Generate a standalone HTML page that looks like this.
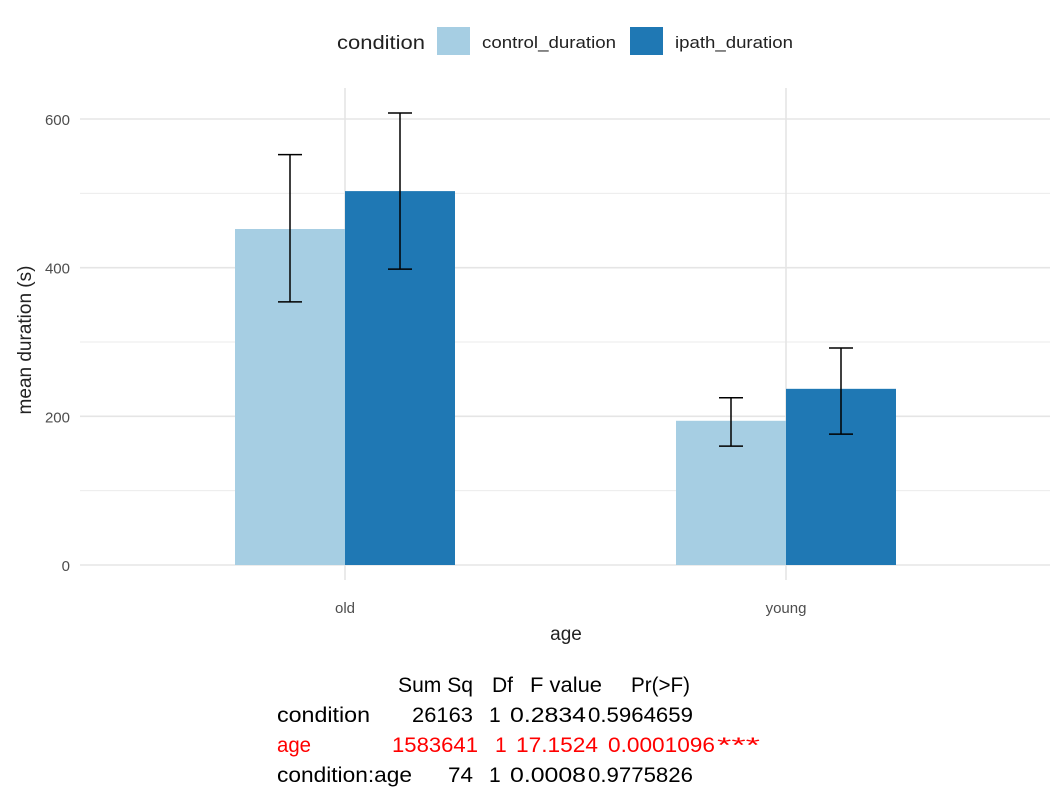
<!DOCTYPE html>
<html><head><meta charset="utf-8"><style>
body{margin:0;background:#fff;width:1062px;height:805px;overflow:hidden}
svg{display:block;font-family:"Liberation Sans",sans-serif}
</style></head><body>
<svg id="c" width="1062" height="805">
<g id="grid"></g><g id="bars"></g><g id="axes"></g>
<g>
<text x="337" y="49" font-size="19" fill="#222" textLength="88" lengthAdjust="spacingAndGlyphs">condition</text>
<rect x="437" y="27" width="33" height="28" fill="#a6cee3"/>
<text x="482" y="48" font-size="16.5" fill="#222" textLength="134" lengthAdjust="spacingAndGlyphs">control_duration</text>
<rect x="630" y="27" width="33" height="28" fill="#1f78b4"/>
<text x="675" y="48" font-size="16.5" fill="#222" textLength="118" lengthAdjust="spacingAndGlyphs">ipath_duration</text>
</g>
<text x="566" y="640" font-size="19" fill="#222" text-anchor="middle">age</text>
<text transform="translate(31,340) rotate(-90)" font-size="19" fill="#222" text-anchor="middle">mean duration (s)</text>
<g font-size="21" lengthAdjust="spacingAndGlyphs">
<text x="398" y="692" fill="#000" textLength="75" lengthAdjust="spacingAndGlyphs">Sum Sq</text><text x="492" y="692" fill="#000" textLength="21" lengthAdjust="spacingAndGlyphs">Df</text><text x="530" y="692" fill="#000" textLength="72" lengthAdjust="spacingAndGlyphs">F value</text><text x="631" y="692" fill="#000" textLength="59" lengthAdjust="spacingAndGlyphs">Pr(&gt;F)</text>
<text x="277" y="722" fill="#000" textLength="93" lengthAdjust="spacingAndGlyphs">condition</text><text x="412" y="722" fill="#000" textLength="61" lengthAdjust="spacingAndGlyphs">26163</text><text x="489" y="722" fill="#000">1</text><text x="510" y="722" fill="#000" textLength="76" lengthAdjust="spacingAndGlyphs">0.2834</text><text x="588" y="722" fill="#000" textLength="105" lengthAdjust="spacingAndGlyphs">0.5964659</text>
<text x="277" y="752" fill="#f00" textLength="34" lengthAdjust="spacingAndGlyphs">age</text><text x="392" y="752" fill="#f00" textLength="86" lengthAdjust="spacingAndGlyphs">1583641</text><text x="495" y="752" fill="#f00">1</text><text x="516" y="752" fill="#f00" textLength="82" lengthAdjust="spacingAndGlyphs">17.1524</text><text x="608" y="752" fill="#f00" textLength="107" lengthAdjust="spacingAndGlyphs">0.0001096</text><text x="717" y="752" fill="#f00" textLength="43" lengthAdjust="spacingAndGlyphs">***</text>
<text x="277" y="782" fill="#000" textLength="135" lengthAdjust="spacingAndGlyphs">condition:age</text><text x="448" y="782" fill="#000" textLength="25" lengthAdjust="spacingAndGlyphs">74</text><text x="489" y="782" fill="#000">1</text><text x="510" y="782" fill="#000" textLength="76" lengthAdjust="spacingAndGlyphs">0.0008</text><text x="588" y="782" fill="#000" textLength="105" lengthAdjust="spacingAndGlyphs">0.9775826</text>
</g>
</svg>
<script>
const categories=["old","young"];
const controlMean=[452,194];
const ipathMean=[503,237];
const controlLo=[354,160];
const controlHi=[552,225];
const ipathLo=[398,176];
const ipathHi=[608,292];
const yTicks=[0,200,400,600];
const NS="http://www.w3.org/2000/svg";
const y=v=>565-v*446/600;
const xc=i=>345+i*441;
function mk(p,t,a){const e=document.createElementNS(NS,t);for(const k in a)e.setAttribute(k,a[k]);p.appendChild(e);return e;}
const g=document.getElementById('grid'),b=document.getElementById('bars'),ax=document.getElementById('axes');
[100,300,500].forEach(v=>{const l=mk(g,'line',{x1:80,x2:1050,y1:y(v),y2:y(v),stroke:'#ebebeb','stroke-width':1});

});
yTicks.forEach(v=>{const l=mk(g,'line',{x1:80,x2:1050,y1:y(v),y2:y(v),stroke:'#e5e5e5','stroke-width':1.6});


const t=mk(ax,'text',{x:70,y:y(v)+6,'font-size':15,fill:'#4d4d4d','text-anchor':'end'});t.textContent=v;

});
categories.forEach((c,i)=>{const l=mk(g,'line',{x1:xc(i),x2:xc(i),y1:88,y2:580,stroke:'#e5e5e5','stroke-width':1.6});


const t=mk(ax,'text',{x:xc(i),y:613,'font-size':15,fill:'#4d4d4d','text-anchor':'middle'});t.textContent=c;


[[controlMean,controlLo,controlHi,'#a6cee3',-110,'control'],[ipathMean,ipathLo,ipathHi,'#1f78b4',0,'ipath']].forEach(s=>{
const x0=xc(i)+s[4];
const r=mk(b,'rect',{x:x0,y:y(s[0][i]),width:110,height:y(0)-y(s[0][i]),fill:s[3]});


const m=x0+55,gr=mk(b,'g',{stroke:'#000','stroke-width':1.5});


mk(gr,'line',{x1:m,x2:m,y1:y(s[1][i]),y2:y(s[2][i])});
mk(gr,'line',{x1:m-12,x2:m+12,y1:y(s[1][i]),y2:y(s[1][i])});
mk(gr,'line',{x1:m-12,x2:m+12,y1:y(s[2][i]),y2:y(s[2][i])});});});
</script>
</body></html>
